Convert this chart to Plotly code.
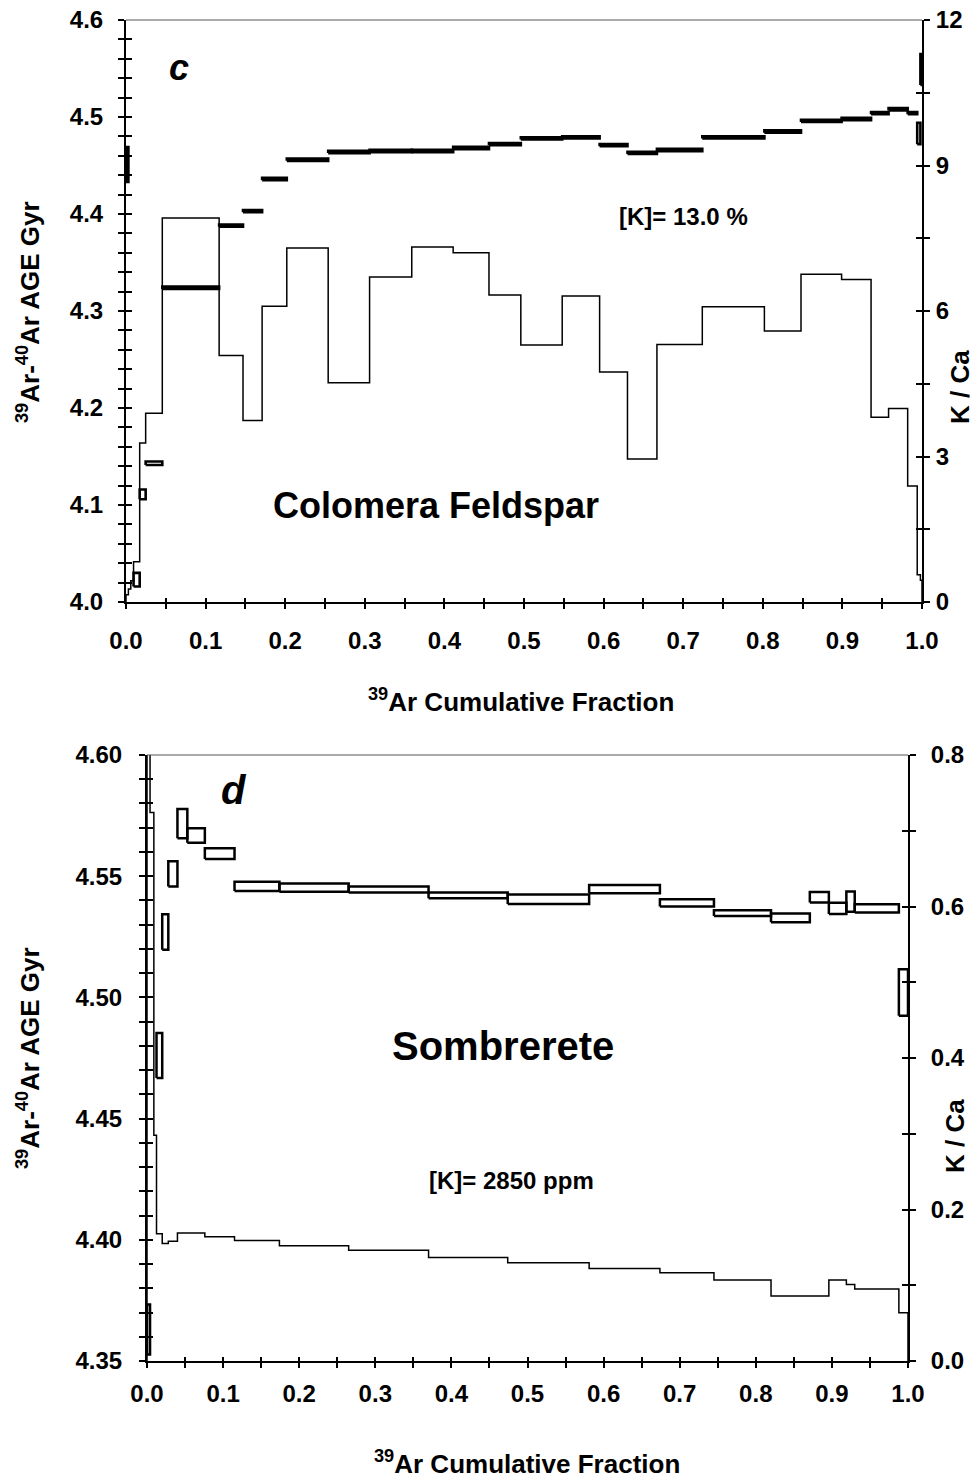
import plotly.graph_objects as go

# ---------------- Panel c : Colomera Feldspar ----------------
c_bounds = [0.0, 0.003, 0.006, 0.0095, 0.0172, 0.0247, 0.0456, 0.117, 0.147, 0.171,
            0.202, 0.254, 0.306, 0.359, 0.411, 0.456, 0.496, 0.548, 0.595, 0.630,
            0.667, 0.724, 0.802, 0.848, 0.899, 0.936, 0.958, 0.982, 0.994, 0.998, 1.0]
c_age = [4.451, None, None, 4.023, 4.111, 4.143, 4.324, 4.388, 4.403, 4.436,
         4.456, 4.464, 4.465, 4.465, 4.468, 4.472, 4.478, 4.479, 4.471, 4.463,
         4.466, 4.479, 4.485, 4.496, 4.498, 4.504, 4.508, 4.504, 4.483, 4.549]
c_err = [0.018, 0, 0, 0.007, 0.005, 0.0018, 0.0012, 0.0012, 0.0012, 0.0012,
         0.0012, 0.0012, 0.0012, 0.0012, 0.0012, 0.0012, 0.0012, 0.0012, 0.0012, 0.0012,
         0.0012, 0.0012, 0.0012, 0.0012, 0.0012, 0.0012, 0.0012, 0.0012, 0.011, 0.016]
c_kca = [0.15, 0.27, 0.44, 0.83, 3.28, 3.89, 7.92, 5.08, 3.74, 6.10,
         7.30, 4.52, 6.70, 7.32, 7.20, 6.33, 5.30, 6.31, 4.74, 2.95,
         5.31, 6.09, 5.59, 6.76, 6.65, 3.81, 3.99, 2.39, 0.56, 0.45]

# ---------------- Panel d : Sombrerete ----------------
d_bounds = [0.0, 0.004, 0.009, 0.0125, 0.020, 0.028, 0.040, 0.053, 0.076, 0.115,
            0.174, 0.265, 0.370, 0.474, 0.581, 0.674, 0.745, 0.820, 0.871, 0.896,
            0.919, 0.930, 0.988, 1.0]
d_age = [4.363, None, None, 4.476, 4.527, 4.551, 4.5717, 4.5668, 4.5593, 4.5458,
         4.5453, 4.5445, 4.5421, 4.5405, 4.5447, 4.539, 4.5348, 4.5328, 4.5413, 4.5367,
         4.5395, 4.5367, 4.502]
d_err = [0.0103, 0, 0, 0.0093, 0.0073, 0.0052, 0.006, 0.003, 0.0022, 0.0019,
         0.0017, 0.0012, 0.0012, 0.002, 0.0017, 0.0015, 0.0012, 0.0018, 0.0022, 0.0023,
         0.0042, 0.0017, 0.0096]
d_kca = [0.95, 0.724, 0.298, 0.168, 0.155, 0.158, 0.169, 0.169, 0.164, 0.159,
         0.152, 0.1463, 0.1367, 0.1298, 0.1222, 0.1164, 0.1068, 0.0857, 0.0857, 0.1068,
         0.1011, 0.0949, 0.0637]

x_ticks = [0.0, 0.1, 0.2, 0.3, 0.4, 0.5, 0.6, 0.7, 0.8, 0.9, 1.0]
c_age_ticks = [4.0, 4.1, 4.2, 4.3, 4.4, 4.5, 4.6]
c_kca_ticks = [0, 3, 6, 9, 12]
d_age_ticks = [4.35, 4.40, 4.45, 4.50, 4.55, 4.60]
d_kca_ticks = [0.0, 0.2, 0.4, 0.6, 0.8]

W, H = 974, 1480
FONT = "Liberation Sans, Arial, Helvetica, sans-serif"


def boxes(bounds, ages, errs):
    xs, ys = [], []
    for i, a in enumerate(ages):
        if a is None:
            continue
        x0, x1 = bounds[i], bounds[i + 1]
        lo, hi = a - errs[i], a + errs[i]
        xs += [x0, x1, x1, x0, x0, None]
        ys += [lo, lo, hi, hi, lo, None]
    return xs, ys


def steps(bounds, vals):
    xs, ys = [bounds[0]], [0.0]
    for i, v in enumerate(vals):
        xs += [bounds[i], bounds[i + 1]]
        ys += [v, v]
    xs.append(bounds[-1])
    ys.append(0.0)
    return xs, ys


fig = go.Figure()

bx, by = boxes(c_bounds, c_age, c_err)
fig.add_trace(go.Scatter(x=bx, y=by, mode="lines", xaxis="x", yaxis="y",
                         line=dict(color="black", width=2.6), showlegend=False))
sx, sy = steps(c_bounds, c_kca)
fig.add_trace(go.Scatter(x=sx, y=sy, mode="lines", xaxis="x", yaxis="y2",
                         line=dict(color="black", width=1.5), showlegend=False))

bx, by = boxes(d_bounds, d_age, d_err)
fig.add_trace(go.Scatter(x=bx, y=by, mode="lines", xaxis="x2", yaxis="y5",
                         line=dict(color="black", width=2.5), showlegend=False))
sx, sy = steps(d_bounds, d_kca)
fig.add_trace(go.Scatter(x=sx, y=sy, mode="lines", xaxis="x2", yaxis="y6",
                         line=dict(color="black", width=1.5), showlegend=False))

# dummy traces so the inner-tick companion axes get drawn
for xa, ya in [("x3", "y"), ("x", "y3"), ("x", "y4"), ("x4", "y5"), ("x2", "y7"), ("x2", "y8")]:
    fig.add_trace(go.Scatter(x=[None], y=[None], xaxis=xa, yaxis=ya, showlegend=False,
                             hoverinfo="skip"))

tickfont = dict(family=FONT, size=24, color="black", weight="bold")


def px_x(p):
    return p / W


def px_y(p):
    return 1 - p / H


top_dx = [px_x(126), px_x(922)]
top_dy = [px_y(602), px_y(20)]
bot_dx = [px_x(147), px_x(908)]
bot_dy = [px_y(1361), px_y(755)]

base = dict(showgrid=False, zeroline=False, linecolor="black", tickcolor="black",
            tickwidth=1.5, tickfont=tickfont, automargin=False)

fig.update_layout(
    template="none",
    width=W, height=H, autosize=False,
    margin=dict(l=0, r=0, t=0, b=0, pad=0),
    paper_bgcolor="white", plot_bgcolor="white",
    xaxis=dict(base, domain=top_dx, anchor="y", range=[0, 1],
               tickvals=x_ticks, ticktext=[f"{v:.1f}" for v in x_ticks],
               ticks="outside", ticklen=5, showline=True, linewidth=2,
               ticklabelstandoff=11,
               minor=dict(tick0=0, dtick=0.05, ticks="outside", ticklen=5,
                          tickwidth=1.5, tickcolor="black")),
    xaxis3=dict(base, domain=top_dx, anchor="y", overlaying="x", range=[0, 1],
                tickvals=x_ticks, ticks="inside", ticklen=4, showticklabels=False,
                showline=False,
                minor=dict(tick0=0, dtick=0.05, ticks="inside", ticklen=4,
                           tickwidth=1.5, tickcolor="black")),
    yaxis=dict(base, domain=top_dy, anchor="x", range=[4.0, 4.6],
               tickvals=c_age_ticks, ticktext=[f"{v:.1f}" for v in c_age_ticks],
               ticks="outside", ticklen=6, showline=True, linewidth=2,
               ticklabelstandoff=10,
               minor=dict(tick0=4.0, dtick=0.02, ticks="outside", ticklen=6,
                          tickwidth=1.5, tickcolor="black")),
    yaxis3=dict(base, domain=top_dy, anchor="x", overlaying="y", side="left",
                range=[4.0, 4.6], tickvals=c_age_ticks, ticks="inside", ticklen=6,
                showticklabels=False, showline=False,
                minor=dict(tick0=4.0, dtick=0.02, ticks="inside", ticklen=6,
                           tickwidth=1.5, tickcolor="black")),
    yaxis2=dict(base, domain=top_dy, anchor="x", overlaying="y", side="right",
                range=[0, 12], tickvals=c_kca_ticks,
                ticktext=[str(v) for v in c_kca_ticks],
                ticks="outside", ticklen=6, showline=True, linewidth=2,
                ticklabelstandoff=1,
                minor=dict(tick0=0, dtick=1.5, ticks="outside", ticklen=6,
                           tickwidth=1.5, tickcolor="black")),
    yaxis4=dict(base, domain=top_dy, anchor="x", overlaying="y", side="right",
                range=[0, 12], tickvals=c_kca_ticks, ticks="inside", ticklen=6,
                showticklabels=False, showline=False,
                minor=dict(tick0=0, dtick=1.5, ticks="inside", ticklen=6,
                           tickwidth=1.5, tickcolor="black")),
    xaxis2=dict(base, domain=bot_dx, anchor="y5", range=[0, 1],
                tickvals=x_ticks, ticktext=[f"{v:.1f}" for v in x_ticks],
                ticks="outside", ticklen=5, showline=True, linewidth=2,
                ticklabelstandoff=5,
                minor=dict(tick0=0, dtick=0.05, ticks="outside", ticklen=5,
                           tickwidth=1.5, tickcolor="black")),
    xaxis4=dict(base, domain=bot_dx, anchor="y5", overlaying="x2", range=[0, 1],
                tickvals=x_ticks, ticks="inside", ticklen=4, showticklabels=False,
                showline=False,
                minor=dict(tick0=0, dtick=0.05, ticks="inside", ticklen=4,
                           tickwidth=1.5, tickcolor="black")),
    yaxis5=dict(base, domain=bot_dy, anchor="x2", range=[4.35, 4.60],
                tickvals=d_age_ticks, ticktext=[f"{v:.2f}" for v in d_age_ticks],
                ticks="outside", ticklen=6, showline=True, linewidth=2,
                ticklabelstandoff=12,
                minor=dict(tick0=4.35, dtick=0.01, ticks="outside", ticklen=6,
                           tickwidth=1.5, tickcolor="black")),
    yaxis7=dict(base, domain=bot_dy, anchor="x2", overlaying="y5", side="left",
                range=[4.35, 4.60], tickvals=d_age_ticks, ticks="inside", ticklen=6,
                showticklabels=False, showline=False,
                minor=dict(tick0=4.35, dtick=0.01, ticks="inside", ticklen=6,
                           tickwidth=1.5, tickcolor="black")),
    yaxis6=dict(base, domain=bot_dy, anchor="x2", overlaying="y5", side="right",
                range=[0, 0.8], tickvals=d_kca_ticks,
                ticktext=[f"{v:.1f}" for v in d_kca_ticks],
                ticks="outside", ticklen=6, showline=True, linewidth=2,
                ticklabelstandoff=10,
                minor=dict(tick0=0, dtick=0.1, ticks="outside", ticklen=6,
                           tickwidth=1.5, tickcolor="black")),
    yaxis8=dict(base, domain=bot_dy, anchor="x2", overlaying="y5", side="right",
                range=[0, 0.8], tickvals=d_kca_ticks, ticks="inside", ticklen=6,
                showticklabels=False, showline=False,
                minor=dict(tick0=0, dtick=0.1, ticks="inside", ticklen=6,
                           tickwidth=1.5, tickcolor="black")),
)

# thin top frame lines
for xr, yr in [("x domain", "y domain"), ("x2 domain", "y5 domain")]:
    fig.add_shape(type="line", xref=xr, yref=yr, x0=0, x1=1, y0=1, y1=1,
                  line=dict(color="#555555", width=1))


def note(text, x, y, size, angle=0, italic=False):
    fig.add_annotation(text=text, xref="paper", yref="paper", x=px_x(x), y=px_y(y),
                       xanchor="center", yanchor="middle", showarrow=False,
                       textangle=angle,
                       font=dict(family=FONT, size=size, color="black", weight="bold",
                                 style="italic" if italic else "normal"))


note("c", 179, 68, 36, italic=True)
note("[K]= 13.0 %", 683, 216, 24)
note("Colomera Feldspar", 436, 505, 36)
note("<sup>39</sup>Ar Cumulative Fraction", 521, 700, 26)
note("<sup>39</sup>Ar-<sup>40</sup>Ar AGE Gyr", 28, 312, 26, angle=-90)
note("K / Ca", 960, 387, 26, angle=-90)

note("d", 234, 790, 40, italic=True)
note("Sombrerete", 503, 1046, 40)
note("[K]= 2850 ppm", 511, 1180, 24)
note("<sup>39</sup>Ar Cumulative Fraction", 527, 1462, 26)
note("<sup>39</sup>Ar-<sup>40</sup>Ar AGE Gyr", 28, 1058, 26, angle=-90)
note("K / Ca", 955, 1136, 26, angle=-90)

fig.write_html(
    "out.html",
    config={"displayModeBar": False},
    post_script="document.body.style.margin='0';document.body.style.overflow='hidden';",
)
